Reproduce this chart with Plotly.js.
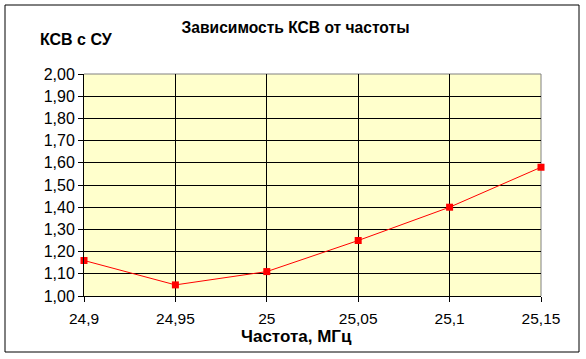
<!DOCTYPE html>
<html>
<head>
<meta charset="utf-8">
<script src="https://cdn.plot.ly/plotly-3.0.1.min.js"></script>
<style>html,body{margin:0;padding:0;background:#fff;}</style>
</head>
<body>
<div id="chart" style="width:586px;height:359px;"></div>
<script>
var freq = [24.9, 24.95, 25, 25.05, 25.1, 25.15];
var swr = [1.16, 1.05, 1.11, 1.25, 1.40, 1.58];
var xTickLabels = ["24,9", "24,95", "25", "25,05", "25,1", "25,15"];
var chartTitle = "Зависимость КСВ от частоты";
var yTitle = "КСВ с СУ";
var xTitle = "Частота, МГц";

var L = 84, R = 541, T = 74, B = 296;
var W = 586, H = 359;
function px(x){ return (x - L) / (R - L); }
function py(y){ return (B - y) / (B - T); }

var font = "Liberation Sans, Arial, sans-serif";

var trace = {
  x: freq, y: swr, type: "scatter", mode: "lines+markers",
  line: {color: "#FF0000", width: 1},
  marker: {color: "#FF0000", symbol: "square", size: 7},
  cliponaxis: false, showlegend: false, hoverinfo: "skip"
};

var layout = {
  width: W, height: H,
  margin: {l: L, r: W - R, t: T, b: H - B, pad: 0},
  paper_bgcolor: "#FFFFFF",
  plot_bgcolor: "#FFFFCC",
  separators: ", ",
  font: {family: font, color: "#000000", size: 15},
  title: {
    text: chartTitle,
    font: {family: font, size: 15.6, weight: "bold", color: "#000"},
    xref: "container", x: 295.5 / W, xanchor: "center",
    yref: "container", y: 1 - 28 / H, yanchor: "middle"
  },
  xaxis: {
    range: [24.9, 25.15],
    tickmode: "array", tickvals: freq, ticktext: xTickLabels,
    showgrid: true, gridcolor: "#000000", gridwidth: 1,
    showline: true, linecolor: "#000000", linewidth: 1,
    ticks: "outside", ticklen: 5, tickcolor: "#000000", tickwidth: 1,
    ticklabelstandoff: 3,
    zeroline: false, fixedrange: true,
    tickfont: {family: font, size: 15.5, color: "#000"}
  },
  yaxis: {
    range: [1, 2], dtick: 0.1, tick0: 1, tickformat: ".2f",
    showgrid: true, gridcolor: "#000000", gridwidth: 1,
    showline: true, linecolor: "#000000", linewidth: 1,
    ticks: "outside", ticklen: 5, tickcolor: "#000000", tickwidth: 1,
    zeroline: false, fixedrange: true,
    tickfont: {family: font, size: 16, color: "#000"}
  },
  annotations: [
    {text: yTitle, xref: "paper", yref: "paper", x: px(38), y: py(39),
     xanchor: "left", yanchor: "middle", showarrow: false,
     font: {family: font, size: 16, weight: "bold", color: "#000"}},
    {text: xTitle, xref: "paper", yref: "paper", x: px(296), y: py(336),
     xanchor: "center", yanchor: "middle", showarrow: false,
     font: {family: font, size: 17, weight: "bold", color: "#000"}}
  ],
  shapes: [
    {type: "line", xref: "paper", yref: "paper", x0: 0, x1: 1, y0: 1, y1: 1,
     line: {color: "#808080", width: 1}, layer: "between"},
    {type: "line", xref: "paper", yref: "paper", x0: 1, x1: 1, y0: 0, y1: 1,
     line: {color: "#808080", width: 1}, layer: "between"},
    {type: "rect", xref: "paper", yref: "paper",
     x0: px(5), x1: px(579), y0: py(352), y1: py(5),
     line: {color: "#000000", width: 1}, fillcolor: "rgba(0,0,0,0)", layer: "above"}
  ]
};

Plotly.newPlot("chart", [trace], layout, {displayModeBar: false, staticPlot: true});
</script>
</body>
</html>
